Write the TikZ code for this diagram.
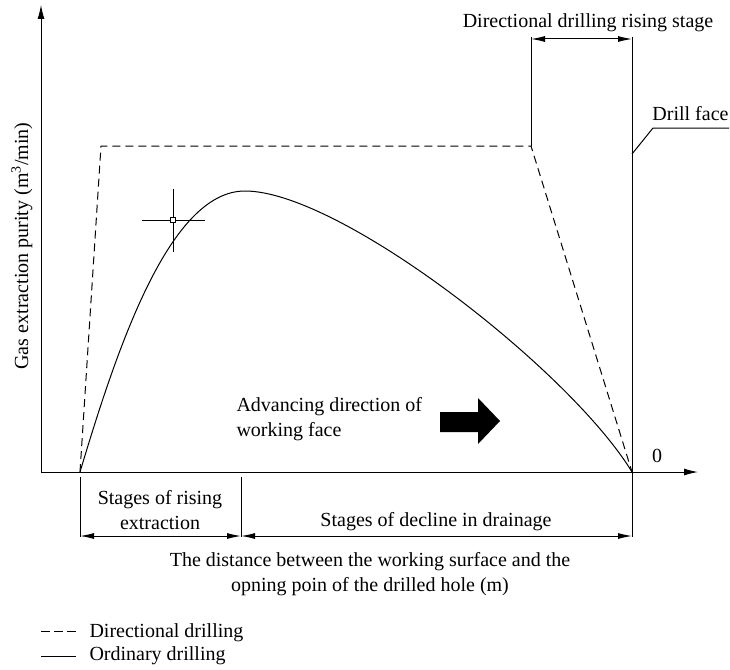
\documentclass[tikz,border=0pt]{standalone}
\usepackage{fontspec}
\setmainfont{Liberation Serif}
\usetikzlibrary{arrows.meta}

\begin{document}
\begin{tikzpicture}[x=1pt,y=-1pt,line width=1pt,
    every node/.style={font=\fontsize{20}{25}\selectfont, inner sep=0pt},
    axis/.style={-{Latex[length=14pt,width=7pt]}},
    dimarrow/.style={{Latex[length=14pt,width=6pt]}-{Latex[length=14pt,width=6pt]}},
    directional/.style={dash pattern=on 8pt off 5pt},
  ]
    \useasboundingbox (0,0) rectangle (730,669);
    % axes
    \coordinate (O) at (41,472);
    \coordinate (ytop) at (41,5);
    \coordinate (xend) at (698,472);
    \draw[axis] (O) -- (ytop);
    \draw[axis] (O) -- (xend);
    \node[rotate=90] (ylabel) at (22,246) {Gas extraction purity (m\textsuperscript{3}/min)};
    \node[anchor=base] (zero) at (657,462) {0};
    % directional drilling
    \coordinate (start) at (80,472);
    \coordinate (face) at (632,472);
    \coordinate (dtopl) at (101,146);
    \coordinate (dtopr) at (531,146);
    \draw[directional] (start) -- (dtopl) -- (dtopr) -- (face);
    % ordinary drilling
    \coordinate (peak) at (245,191);
    \draw (start) .. controls (118,345) and (170,191) .. (peak)
      .. controls (340,191) and (570,370) .. (face);
    % crosshair
    \coordinate (cross) at (173,220);
    \draw (142,220) -- (205,220);
    \draw (173,189) -- (173,252);
    \node[draw, fill=white, minimum size=5pt, line width=0.8pt] (mark) at (cross) {};
    % rising stage of directional drilling
    \coordinate (facetop) at (632,37);
    \coordinate (facebot) at (632,537);
    \coordinate (risetop) at (531,37);
    \draw (facetop) -- (facebot);
    \draw (risetop) -- (dtopr);
    \draw[dimarrow] (531,39) -- (632,39);
    \node[anchor=base] (risestage) at (588,28) {Directional drilling rising stage};
    % drill face
    \node[anchor=base east] (drillface) at (729,120) {Drill face};
    \coordinate (leader) at (653,128);
    \draw (632,154) -- (leader) -- (729,128);
    % advancing direction
    \node[anchor=west, align=left] (advance) at (236,419) {Advancing direction of\\working face};
    \fill (440,412) -- (478,412) -- (478,398) -- (500,421) -- (478,444) -- (478,432) -- (440,432) -- cycle;
    % stages below the axis
    \draw (80,477) -- (80,537);
    \draw (241,477) -- (241,537);
    \draw[dimarrow] (80,536) -- (241,536);
    \draw[dimarrow] (241,536) -- (632,536);
    \node[align=center] (rising) at (160,510) {Stages of rising\\extraction};
    \node[anchor=base] (decline) at (436,526) {Stages of decline in drainage};
    \node[align=center] (xlabel) at (370,574) {The distance between the working surface and the\\opning poin of the drilled hole (m)};
    % legend
    \draw[dash pattern=on 9pt off 4pt] (41,631) -- (76,631);
    \draw (41,656) -- (76,656);
    \node[anchor=base west] (legdir) at (89,637) {Directional drilling};
    \node[anchor=base west] (legord) at (89,660) {Ordinary drilling};
\end{tikzpicture}
\end{document}
